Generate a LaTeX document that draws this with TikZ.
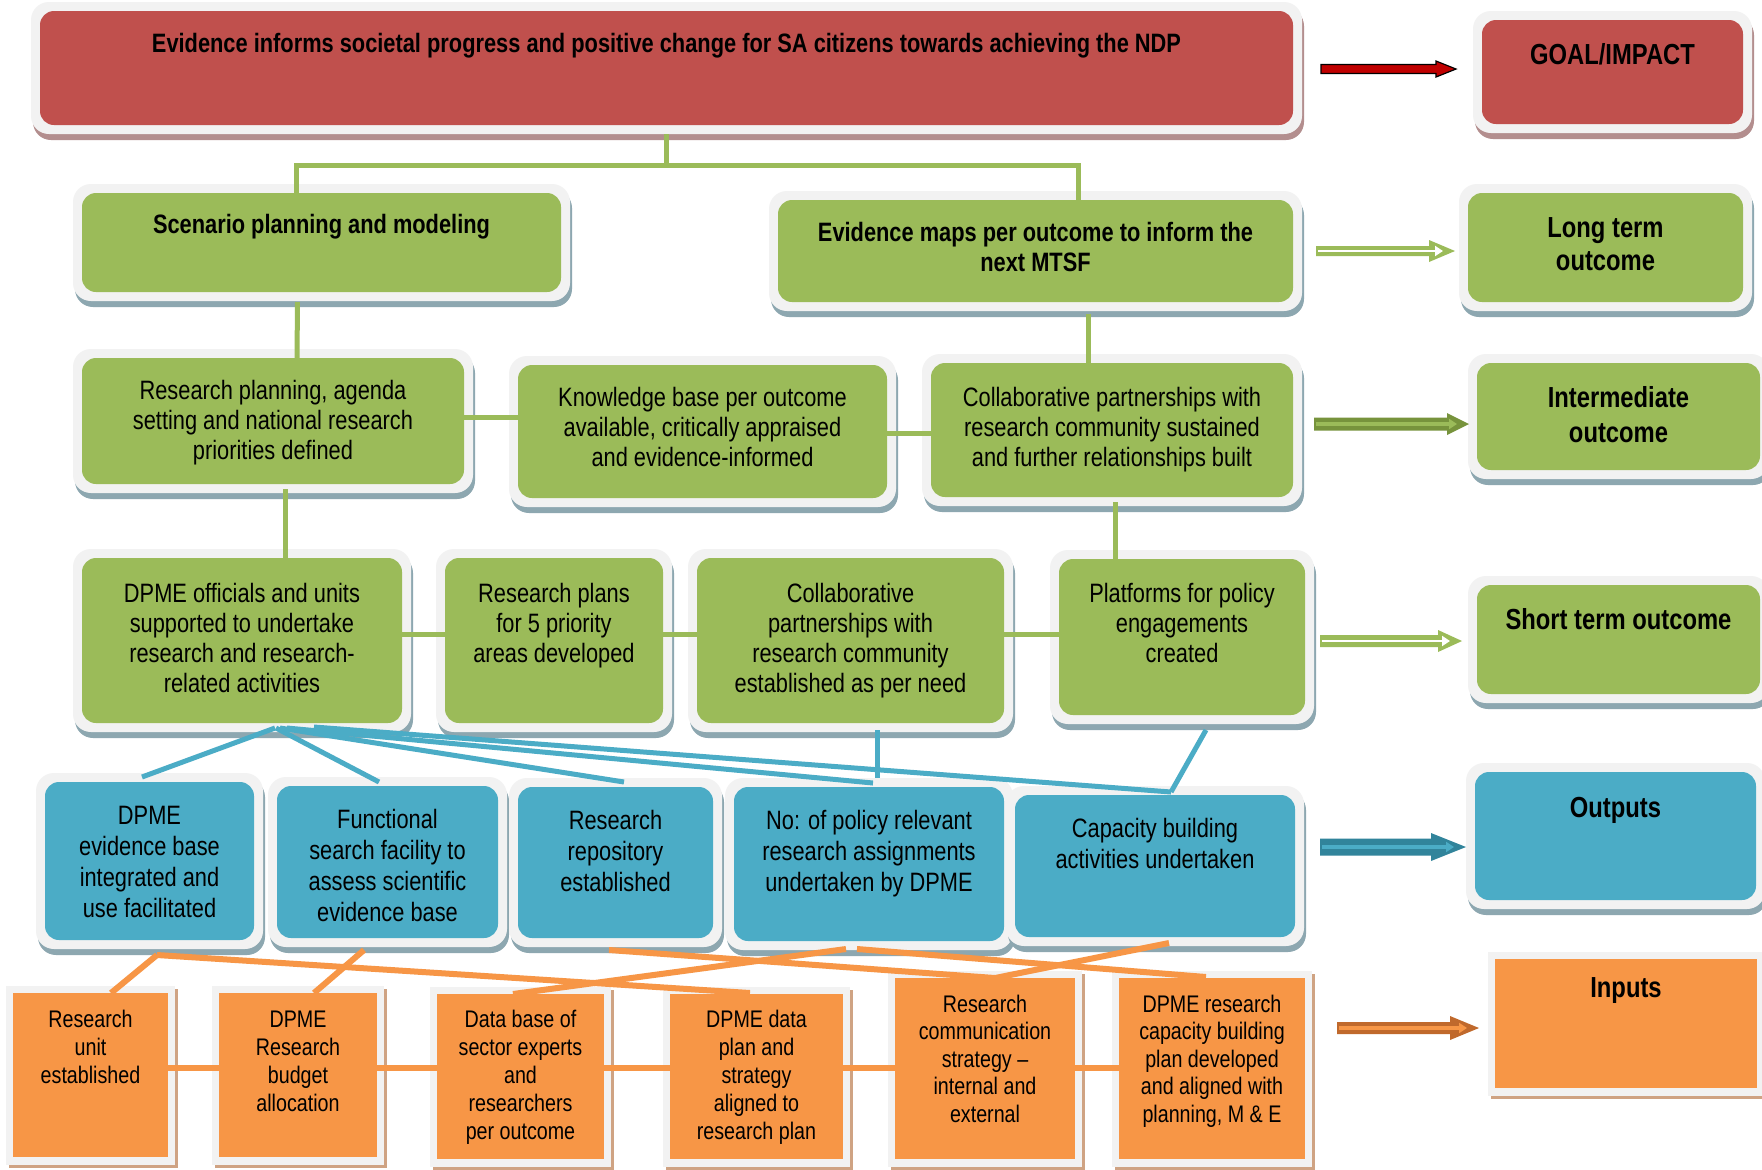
\documentclass[tikz,border=0pt]{standalone}
\usepackage{fontspec}
\setmainfont{Liberation Sans}[FakeStretch=0.82]
\usetikzlibrary{calc,arrows.meta}
\definecolor{rfill}{HTML}{C0504D}
\definecolor{rshd}{HTML}{B38E8E}
\definecolor{gfill}{HTML}{9BBB59}
\definecolor{gshd}{HTML}{8DA7B0}
\definecolor{bfill}{HTML}{4BACC6}
\definecolor{bshd}{HTML}{8DA7B0}
\definecolor{ofill}{HTML}{F79646}
\definecolor{oshd}{HTML}{CFA383}
\definecolor{framec}{HTML}{F2F2F2}
\definecolor{gdark}{HTML}{77933C}
\definecolor{bdark}{HTML}{31849B}
\definecolor{odark}{HTML}{C0692C}
\definecolor{adark}{HTML}{C00000}
\pgfdeclarelayer{bgw}\pgfdeclarelayer{frames}\pgfdeclarelayer{conn}
\pgfsetlayers{bgw,frames,conn,main}
\newcommand\fz[2]{\fontsize{#1pt}{#2pt}\selectfont}
\tikzset{
  gline/.style={draw=gfill,line width=2.5pt},
  bline/.style={draw=bfill,line width=2.5pt},
  oline/.style={draw=ofill,line width=3pt},
  boxnode/.style={inner sep=0pt,outer sep=0pt}
}
% rounded box: name, x1, y1, x2, y2, colour key, first baseline, font, text
\newcommand\rbx[9]{%
  \begin{pgfonlayer}{frames}
    \fill[#6shd,rounded corners=9pt] ({#2-7},{#3-3}) rectangle ({#4+11},{#5+15});
    \fill[framec,rounded corners=9pt] ({#2-9},{#3-9}) rectangle ({#4+9},{#5+9});
  \end{pgfonlayer}
  \node[boxnode,fill=#6fill,rounded corners=7pt,font={#8}] (#1) at ({(#2+#4)/2},{(#3+#5)/2})
    {\parbox[c][\dimexpr(#5pt-#3pt)/2\relax][t]{\dimexpr(#4pt-#2pt)/2\relax}{\centering\rule{0pt}{\dimexpr(#7pt-#3pt)/2\relax}#9\par}};
}
% square box
\newcommand\sqbx[9]{%
  \begin{pgfonlayer}{frames}
    \fill[#6shd] ({#2-4},{#3-4}) rectangle ({#4+10},{#5+11});
    \fill[framec] ({#2-7},{#3-7}) rectangle ({#4+7},{#5+8});
  \end{pgfonlayer}
  \node[boxnode,fill=#6fill,font={#8}] (#1) at ({(#2+#4)/2},{(#3+#5)/2})
    {\parbox[c][\dimexpr(#5pt-#3pt)/2\relax][t]{\dimexpr(#4pt-#2pt)/2\relax}{\centering\rule{0pt}{\dimexpr(#7pt-#3pt)/2\relax}#9\par}};
}
% block arrow: x1, x2, y, shaft half, head half, head length, fill, inner colour, inner width
\newcommand\barrow[9]{%
  \fill[#7] (#1,{#3-#4}) -- ({#2-#6},{#3-#4}) -- ({#2-#6},{#3-#5}) -- (#2,#3) -- ({#2-#6},{#3+#5}) -- ({#2-#6},{#3+#4}) -- (#1,{#3+#4}) -- cycle;
  \draw[#8,line width=#9,-{Triangle[length=4pt,width=5pt]}] ({#1+2},#3) -- ({#2-12},#3);
}
\begin{document}
\begin{tikzpicture}[x=0.5pt,y=-0.5pt]
\begin{pgfonlayer}{bgw}
\fill[white] (0,0) rectangle (1762,1169);
\end{pgfonlayer}
\useasboundingbox (0,0) rectangle (1762,1169);

% ---- goal row
\rbx{top}{40}{11}{1293}{125}{r}{52}{\fz{13.3}{15}\bfseries}{Evidence informs societal progress and positive change for SA citizens towards achieving the NDP}
\rbx{goal}{1482}{20}{1743}{124}{r}{64}{\fz{14.5}{16.5}\bfseries}{GOAL/IMPACT}
% ---- long term
\rbx{scen}{82}{193}{561}{292}{g}{233}{\fz{13.3}{15}\bfseries}{Scenario planning and modeling}
\rbx{evm}{778}{200}{1293}{302}{g}{241}{\fz{13.3}{15}\bfseries}{Evidence maps per outcome to inform the\\next MTSF}
\rbx{lto}{1468}{193}{1743}{302}{g}{237}{\fz{14.5}{16.5}\bfseries}{Long term\\outcome}
% ---- intermediate
\rbx{rplan}{82}{358}{464}{484}{g}{399}{\fz{13.3}{15}}{Research planning, agenda\\setting and national research\\priorities defined}
\rbx{know}{518}{365}{887}{498}{g}{406}{\fz{13.3}{15}}{Knowledge base per outcome\\available, critically appraised\\and evidence-informed}
\rbx{colI}{931}{363}{1293}{497}{g}{406}{\fz{13.3}{15}}{Collaborative partnerships with\\research community sustained\\and further relationships built}
\rbx{imo}{1477}{363}{1760}{470}{g}{407}{\fz{14.5}{17.5}\bfseries}{Intermediate\\outcome}
% ---- short term
\rbx{dpo}{82}{558}{402}{723}{g}{602}{\fz{13.3}{15}}{DPME officials and units\\supported to undertake\\research and research-\\related activities}
\rbx{rpl}{445}{558}{663}{723}{g}{602}{\fz{13.3}{15}}{Research plans\\for 5 priority\\areas developed}
\rbx{colS}{697}{558}{1004}{723}{g}{602}{\fz{13.3}{15}}{Collaborative\\partnerships with\\research community\\established as per need}
\rbx{plat}{1059}{559}{1305}{715}{g}{602}{\fz{13.3}{15}}{Platforms for policy\\engagements\\created}
\rbx{sto}{1477}{585}{1760}{694}{g}{629}{\fz{14.5}{16.5}\bfseries}{Short term outcome}
% ---- outputs
\rbx{dev}{45}{782}{254}{940}{b}{824}{\fz{13.3}{15.5}}{DPME\\evidence base\\integrated and\\use facilitated}
\rbx{func}{277}{786}{498}{938}{b}{828}{\fz{13.3}{15.5}}{Functional\\search facility to\\assess scientific\\evidence base}
\rbx{repo}{518}{787}{713}{938}{b}{829}{\fz{13.3}{15.5}}{Research\\repository\\established}
\rbx{nopol}{734}{787}{1004}{941}{b}{829}{\fz{13.3}{15.5}}{No: of policy relevant\\research assignments\\undertaken by DPME}
\rbx{capb}{1015}{795}{1295}{937}{b}{837}{\fz{13.3}{15.5}}{Capacity building\\activities undertaken}
\rbx{outp}{1475}{772}{1756}{900}{b}{817}{\fz{14.5}{16.5}\bfseries}{Outputs}
% ---- inputs
\sqbx{runit}{13}{993}{168}{1157}{o}{1027}{\fz{12}{14}}{Research\\unit\\established}
\sqbx{budg}{219}{993}{377}{1157}{o}{1027}{\fz{12}{14}}{DPME\\Research\\budget\\allocation}
\sqbx{dbase}{437}{994}{604}{1159}{o}{1027}{\fz{12}{14}}{Data base of\\sector experts\\and\\researchers\\per outcome}
\sqbx{dplan}{670}{994}{843}{1159}{o}{1027}{\fz{12}{14}}{DPME data\\plan and\\strategy\\aligned to\\research plan}
\sqbx{comm}{895}{978}{1075}{1159}{o}{1012}{\fz{12}{13.75}}{Research\\communication\\strategy --\\internal and\\external}
\sqbx{cplan}{1119}{978}{1305}{1159}{o}{1012}{\fz{12}{13.75}}{DPME research\\capacity building\\plan developed\\and aligned with\\planning, M \& E}
\sqbx{inp}{1495}{959}{1757}{1088}{o}{997}{\fz{14.5}{16.5}\bfseries}{Inputs}

% ---- level arrows
\filldraw[fill=adark,draw=black,line width=0.6pt] (1321,64.5) -- (1436,64.5) -- (1436,61) -- (1456,69) -- (1436,77) -- (1436,73.5) -- (1321,73.5) -- cycle;
\barrow{1316}{1455}{251}{5}{11}{26}{gfill}{white}{1pt}
\barrow{1314}{1469}{424}{6.5}{11}{22}{gdark}{gfill}{1.6pt}
\barrow{1320}{1462}{641}{6}{11}{24}{gfill}{white}{1pt}
\barrow{1320}{1466}{847}{8.5}{14}{35}{bdark}{bfill}{2pt}
\barrow{1337}{1479}{1028}{6}{12}{29}{odark}{ofill}{1.6pt}

% ---- connectors
\begin{pgfonlayer}{conn}
\coordinate (j1) at (666,165);
\coordinate (j2) at (296,165);
\coordinate (j3) at (1078,165);
\coordinate (h1) at (0,417);
\coordinate (h2) at (0,433);
\coordinate (h3) at (0,634);
\coordinate (h4) at (0,1068);
\draw[gline] ($(top.south -| j1)+(0,9)$) -- (j1);
\draw[gline] (scen.north -| j2) -- (j2) -- (j3) -- (evm.north -| j3);
\draw[gline] ($(scen.south)+(-24,10)$) -- ($(rplan.north)+(24,0)$);
\draw[gline] (rplan.east |- h1) -- (know.west |- h1);
\draw[gline] (know.east |- h2) -- (colI.west |- h2);
\draw[gline] ($(evm.south)+(52.5,12)$) -- ($(colI.north)+(-24,0)$);
\draw[gline] ($(rplan.south)+(12,5)$) -- ($(dpo.north)+(43,0)$);
\draw[gline] ($(colI.south)+(3,5)$) -- ($(plat.north)+(-67,0)$);
\draw[gline] (dpo.east |- h3) -- (rpl.west |- h3);
\draw[gline] (rpl.east |- h3) -- (colS.west |- h3);
\draw[gline] (colS.east |- h3) -- (plat.west |- h3);
% blue
\draw[bline] ($(dpo.south)+(33,5)$) -- ($(dev.north)+(-7.5,-5)$);
\draw[bline] ($(dpo.south)+(34,5)$) -- ($(func.north)+(-8.5,-4)$);
\draw[bline] ($(dpo.south)+(38,5)$) -- ($(repo.north)+(8.5,-5)$);
\draw[bline] ($(dpo.south)+(45,5)$) -- ($(nopol.north)+(4,-4)$);
\draw[bline] ($(dpo.south)+(72,4)$) -- ($(capb.north)+(16,-3)$);
\draw[bline] ($(colS.south)+(26.5,7)$) -- ($(nopol.north)+(8,-9)$);
\draw[bline] ($(plat.south)+(24,15)$) -- ($(capb.north)+(16,-3)$);
% orange
\draw[oline] ($(dev.south)+(7.5,15)$) -- ($(runit.north)+(20.5,0)$);
\draw[oline] ($(dev.south)+(7.5,15)$) -- ($(dplan.north)+(-6.5,-1)$);
\draw[oline] ($(func.south)+(-23.5,12)$) -- ($(budg.north)+(16,0)$);
\draw[oline] ($(dbase.north)+(-7.5,0)$) -- ($(nopol.south)+(-23,8)$);
\draw[oline] ($(repo.south)+(-6.5,12)$) -- ($(comm.north)+(10,0)$);
\draw[oline] ($(nopol.south)+(-12,8)$) -- ($(cplan.north)+(-6,-1)$);
\draw[oline] ($(comm.north)+(10,0)$) -- ($(capb.south)+(14,6)$);
\draw[oline] (runit.east |- h4) -- (budg.west |- h4);
\draw[oline] (budg.east |- h4) -- (dbase.west |- h4);
\draw[oline] (dbase.east |- h4) -- (dplan.west |- h4);
\draw[oline] (dplan.east |- h4) -- (comm.west |- h4);
\draw[oline] (comm.east |- h4) -- (cplan.west |- h4);
\end{pgfonlayer}
\end{tikzpicture}
\end{document}
